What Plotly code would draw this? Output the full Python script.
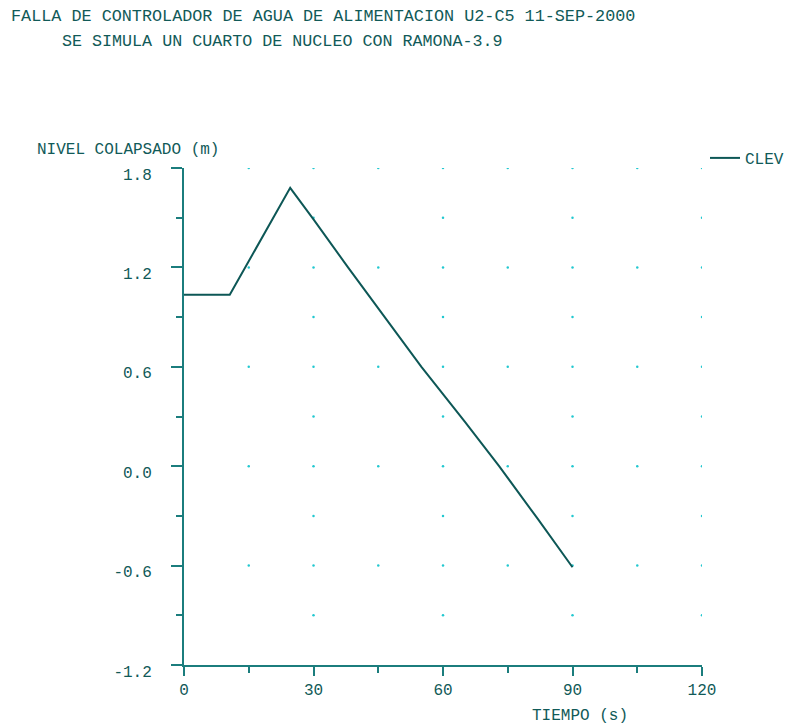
import plotly.graph_objects as go

# ---- data ----
time_s = [0, 10.6, 24.6, 30, 38, 45, 55, 65, 73, 82, 90]
clev_m = [1.035, 1.035, 1.68, 1.49, 1.20, 0.95, 0.60, 0.27, 0.0, -0.32, -0.61]

x_major = [0, 30, 60, 90, 120]
x_minor = [15, 45, 75, 105]
y_major = [-1.2, -0.6, 0.0, 0.6, 1.2, 1.8]
y_minor = [-0.9, -0.3, 0.3, 0.9, 1.5]
y_labels = ["-1.2", "-0.6", "0.0", "0.6", "1.2", "1.8"]

title1 = "FALLA DE CONTROLADOR DE AGUA DE ALIMENTACION U2-C5 11-SEP-2000"
title2 = "SE SIMULA UN CUARTO DE NUCLEO CON RAMONA-3.9"
ytitle = "NIVEL COLAPSADO (m)"
xtitle = "TIEMPO (s)"
series_name = "CLEV"

FONT = "Liberation Mono, Courier New, monospace"
TXT = "#115a58"
AX = "#1b7d7d"
LINE = "#0d5756"
DOT = "#22c8d0"

# grid dots: full x set on major y rows, major x only on minor y rows
dx, dy = [], []
for yv in y_major[1:]:
    for xv in sorted(x_major[1:] + x_minor):
        dx.append(xv); dy.append(yv)
for yv in y_minor:
    for xv in x_major[1:]:
        dx.append(xv); dy.append(yv)

fig = go.Figure()
fig.add_trace(go.Scatter(x=dx, y=dy, mode="markers",
                         marker=dict(size=2.5, color=DOT), showlegend=False,
                         hoverinfo="skip"))
fig.add_trace(go.Scatter(x=time_s, y=clev_m, mode="lines", name=series_name,
                         line=dict(color=LINE, width=2)))

OFF = 8  # page body margin
W, H = 793, 725 - OFF
PW, PH = 520, 497
L, T = 184 - OFF, 168 - OFF
R, B = W - L - PW, H - T - PH

def px(xp):
    return (xp - OFF - L) / PW

def py(yp):
    return (H - B - (yp - OFF)) / PH

fig.update_layout(
    width=W, height=H,
    margin=dict(l=L, r=R, t=T, b=B, pad=0),
    paper_bgcolor="white", plot_bgcolor="white",
    font=dict(family=FONT, color=TXT, size=16),
    legend=dict(x=px(707), y=py(141), xanchor="left", yanchor="top",
                font=dict(family=FONT, size=16, color=TXT),
                bgcolor="rgba(0,0,0,0)", itemwidth=30),
    xaxis=dict(range=[0, 120], tickvals=x_major, ticktext=[str(v) for v in x_major],
               showgrid=False, zeroline=False, showline=True, linecolor=AX, linewidth=2,
               ticks="outside", ticklen=9, tickwidth=2, tickcolor=AX,
               minor=dict(tickvals=x_minor, ticks="outside", ticklen=6, tickwidth=2, tickcolor=AX),
               tickfont=dict(family=FONT, size=16, color=TXT), fixedrange=True),
    yaxis=dict(range=[-1.2, 1.8], tickvals=y_major, ticktext=y_labels,
               showgrid=False, zeroline=False, showline=True, linecolor=AX, linewidth=2,
               ticks="outside", ticklen=11, tickwidth=2, tickcolor=AX,
               minor=dict(tickvals=y_minor, ticks="outside", ticklen=6, tickwidth=2, tickcolor=AX),
               tickfont=dict(family=FONT, size=16, color=TXT),
               ticklabelstandoff=16, ticklabelshift=6, fixedrange=True),
    annotations=[
        dict(text=title1, x=px(8), y=py(17), xref="paper", yref="paper",
             xanchor="left", yanchor="middle", showarrow=False,
             font=dict(family=FONT, size=16.8, color=TXT)),
        dict(text=title2, x=px(60), y=py(41), xref="paper", yref="paper",
             xanchor="left", yanchor="middle", showarrow=False,
             font=dict(family=FONT, size=16.7, color=TXT)),
        dict(text=ytitle, x=px(34), y=py(150), xref="paper", yref="paper",
             xanchor="left", yanchor="middle", showarrow=False,
             font=dict(family=FONT, size=16, color=TXT)),
        dict(text=xtitle, x=px(582), y=py(716), xref="paper", yref="paper",
             xanchor="center", yanchor="middle", showarrow=False,
             font=dict(family=FONT, size=16, color=TXT)),
    ],
)

fig.write_html("out.html")
